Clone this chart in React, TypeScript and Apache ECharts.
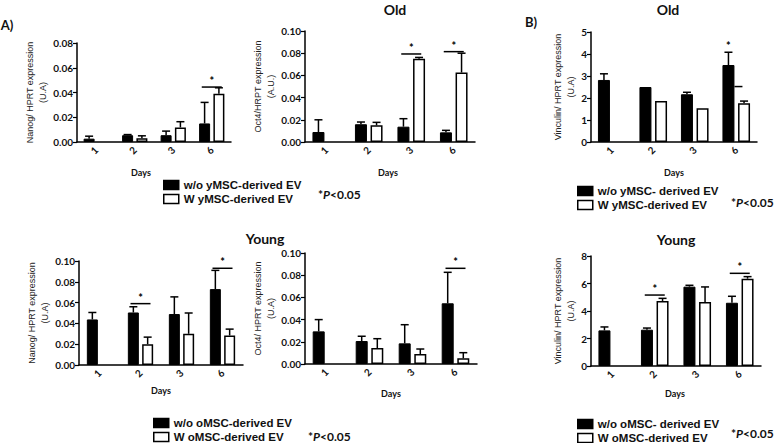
import React, { useEffect, useRef } from "react";
import * as echarts from "echarts";

const days = ["1", "2", "3", "6"];

// A) Old – Nanog
const nanogOldWo = [0.0027, 0.0055, 0.0055, 0.015];
const nanogOldWoErr = [0.002, 0.0005, 0.0033, 0.017];
const nanogOldW = [null, 0.003, 0.0118, 0.039];
const nanogOldWErr = [null, 0.002, 0.0046, 0.0048];
const nanogOldSig = [["6", 0.0444]];

// A) Old – Oct4
const oct4OldWo = [0.009, 0.016, 0.0138, 0.0087];
const oct4OldWoErr = [0.011, 0.002, 0.0072, 0.0018];
const oct4OldW = [null, 0.015, 0.075, 0.0626];
const oct4OldWErr = [null, 0.0027, 0.0012, 0.0174];
const oct4OldSig = [["3", 0.0793], ["6", 0.0814]];

// B) Old – Vinculin
const vincOldWo = [2.82, 2.5, 2.17, 3.5];
const vincOldWoErr = [0.28, 0, 0.09, 0.58];
const vincOldW = [null, 1.86, 1.53, 1.76];
const vincOldWErr = [null, 0, 0, 0.1];
const vincOldStar = [["6", 4.4]];
const vincOldDash = [["6", 2.52]];

// A) Young – Nanog
const nanogYoungWo = [0.0438, 0.0505, 0.049, 0.073];
const nanogYoungWoErr = [0.0067, 0.0055, 0.0165, 0.018];
const nanogYoungW = [null, 0.02, 0.03, 0.0284];
const nanogYoungWErr = [null, 0.0068, 0.02, 0.0061];
const nanogYoungSig = [["2", 0.059], ["6", 0.093]];

// A) Young – Oct4
const oct4YoungWo = [0.0294, 0.0207, 0.0186, 0.0547];
const oct4YoungWoErr = [0.0106, 0.0043, 0.0168, 0.0279];
const oct4YoungW = [null, 0.0144, 0.009, 0.0051];
const oct4YoungWErr = [null, 0.0084, 0.0045, 0.0051];
const oct4YoungSig = [["6", 0.0862]];

// B) Young – Vinculin
const vincYoungWo = [2.59, 2.64, 5.77, 4.6];
const vincYoungWoErr = [0.25, 0.12, 0.1, 0.47];
const vincYoungW = [null, 4.73, 4.65, 6.35];
const vincYoungWErr = [null, 0.19, 1.1, 0.15];
const vincYoungSig = [["2", 5.16], ["6", 6.74]];

const oldWoA = "w/o yMSC-derived EV";
const oldWA = "W yMSC-derived EV";
const oldWoB = "w/o yMSC- derived EV";
const youngWoA = "w/o oMSC-derived EV";
const youngWA = "W oMSC-derived EV";
const youngWoB = "w/o oMSC- derived EV";

const BOLD = "Lato";
const REG = "Liberation Sans";

type Panel = {
  wo: (number | null)[];
  woErr: (number | null)[];
  w: (number | null)[];
  wErr: (number | null)[];
  woName: string;
  wName: string;
  yName: string;
  max: number;
  interval: number;
  decimals: number;
  sig: (string | number)[][];
  star?: (string | number)[][];
  dash?: (string | number)[][];
  grid: { left: number; top: number; width: number; height: number };
  barW: number;
  nameGap: number;
};

const panels: Panel[] = [
  {
    wo: nanogOldWo, woErr: nanogOldWoErr, w: nanogOldW, wErr: nanogOldWErr,
    woName: oldWoA, wName: oldWA, yName: "Nanog/ HPRT expression\n(U.A)",
    max: 0.08, interval: 0.02, decimals: 2, sig: nanogOldSig,
    grid: { left: 77, top: 43, width: 154, height: 99 }, barW: 11, nameGap: 23,
  },
  {
    wo: oct4OldWo, woErr: oct4OldWoErr, w: oct4OldW, wErr: oct4OldWErr,
    woName: oldWoA, wName: oldWA, yName: "Oct4/HRPT expression\n(A.U.)",
    max: 0.1, interval: 0.02, decimals: 2, sig: oct4OldSig,
    grid: { left: 305, top: 31, width: 170, height: 111 }, barW: 12, nameGap: 28,
  },
  {
    wo: vincOldWo, woErr: vincOldWoErr, w: vincOldW, wErr: vincOldWErr,
    woName: oldWoB, wName: oldWA, yName: "Vinculin/ HPRT expression\n(U.A)",
    max: 5, interval: 1, decimals: 0, sig: [], star: vincOldStar, dash: vincOldDash,
    grid: { left: 591, top: 32, width: 166, height: 110 }, barW: 12, nameGap: 14,
  },
  {
    wo: nanogYoungWo, woErr: nanogYoungWoErr, w: nanogYoungW, wErr: nanogYoungWErr,
    woName: youngWoA, wName: youngWA, yName: "Nanog/ HPRT expression\n(U.A)",
    max: 0.1, interval: 0.02, decimals: 2, sig: nanogYoungSig,
    grid: { left: 79, top: 261, width: 164, height: 104 }, barW: 11, nameGap: 22,
  },
  {
    wo: oct4YoungWo, woErr: oct4YoungWoErr, w: oct4YoungW, wErr: oct4YoungWErr,
    woName: youngWoA, wName: youngWA, yName: "Oct4/ HPRT expression\n(U.A)",
    max: 0.1, interval: 0.02, decimals: 2, sig: oct4YoungSig,
    grid: { left: 305, top: 253, width: 172, height: 111 }, barW: 12, nameGap: 28,
  },
  {
    wo: vincYoungWo, woErr: vincYoungWoErr, w: vincYoungW, wErr: vincYoungWErr,
    woName: youngWoB, wName: youngWA, yName: "Vinculin/ HPRT expression\n(U.A)",
    max: 8, interval: 2, decimals: 0, sig: vincYoungSig,
    grid: { left: 591, top: 256, width: 170, height: 110 }, barW: 12, nameGap: 14,
  },
];

const GAP_RATIO = 0.3;

function buildOption() {
  const grid: any[] = [];
  const xAxis: any[] = [];
  const yAxis: any[] = [];
  const series: any[] = [];

  panels.forEach((p, gi) => {
    grid.push({ ...p.grid, containLabel: false });
    xAxis.push({
      type: "category",
      gridIndex: gi,
      data: days,
      axisLine: { lineStyle: { color: "#000", width: 1.5 } },
      axisTick: { alignWithLabel: true, length: 4, lineStyle: { color: "#000", width: 1.2 } },
      axisLabel: {
        interval: 0,
        rotate: 45,
        margin: 6,
        color: "#111",
        fontFamily: BOLD,
        fontWeight: "bold",
        fontSize: 10,
      },
      splitLine: { show: false },
    });
    yAxis.push({
      type: "value",
      gridIndex: gi,
      min: 0,
      max: p.max,
      interval: p.interval,
      name: p.yName,
      nameLocation: "middle",
      nameRotate: 90,
      nameGap: p.nameGap,
      nameTextStyle: { fontFamily: REG, fontSize: 9, lineHeight: 13, color: "#222" },
      axisLine: { show: true, lineStyle: { color: "#000", width: 1.5 } },
      axisTick: { show: true, length: 4, lineStyle: { color: "#000", width: 1.2 } },
      axisLabel: {
        margin: 4,
        color: "#111",
        fontFamily: BOLD,
        fontWeight: "bold",
        fontSize: 10,
        formatter: (v: number) => v.toFixed(p.decimals),
      },
      splitLine: { show: false },
    });

    const off = (p.barW * (1 + GAP_RATIO)) / 2;

    series.push({
      type: "bar",
      name: p.woName,
      xAxisIndex: gi,
      yAxisIndex: gi,
      data: p.wo.map((v) => (v == null ? "-" : v)),
      barWidth: p.barW,
      barGap: `${GAP_RATIO * 100}%`,
      itemStyle: { color: "#000", borderColor: "#000", borderWidth: 1 },
    });
    series.push({
      type: "bar",
      name: p.wName,
      xAxisIndex: gi,
      yAxisIndex: gi,
      data: p.w.map((v) => (v == null ? "-" : v)),
      barWidth: p.barW,
      barGap: `${GAP_RATIO * 100}%`,
      itemStyle: { color: "#fff", borderColor: "#000", borderWidth: 1.5 },
    });

    const errSeries = (vals: (number | null)[], errs: (number | null)[], dx: number) => {
      const data: number[][] = [];
      vals.forEach((v, i) => {
        const e = errs[i];
        if (v != null && e != null && e > 0) data.push([i, v, v + e]);
      });
      return {
        type: "custom",
        xAxisIndex: gi,
        yAxisIndex: gi,
        silent: true,
        z: 5,
        data,
        encode: { x: 0, y: [1, 2] },
        renderItem: (params: any, api: any) => {
          const c = api.coord([api.value(0), api.value(1)]);
          const t = api.coord([api.value(0), api.value(2)]);
          const cx = c[0] + dx;
          const st = { stroke: "#000", lineWidth: 1.5 };
          return {
            type: "group",
            children: [
              { type: "line", shape: { x1: cx, y1: c[1], x2: cx, y2: t[1] }, style: st },
              { type: "line", shape: { x1: cx - 4, y1: t[1], x2: cx + 4, y2: t[1] }, style: st },
            ],
          };
        },
      };
    };
    series.push(errSeries(p.wo, p.woErr, -off));
    series.push(errSeries(p.w, p.wErr, off));

    if (p.sig.length) {
      series.push({
        type: "custom",
        xAxisIndex: gi,
        yAxisIndex: gi,
        silent: true,
        z: 6,
        data: p.sig.map((s) => [days.indexOf(String(s[0])), s[1]]),
        encode: { x: 0, y: 1 },
        renderItem: (params: any, api: any) => {
          const c = api.coord([api.value(0), api.value(1)]);
          return {
            type: "group",
            children: [
              {
                type: "line",
                shape: { x1: c[0] - 10, y1: c[1], x2: c[0] + 10, y2: c[1] },
                style: { stroke: "#000", lineWidth: 1.5 },
              },
              {
                type: "text",
                x: c[0],
                y: c[1] - 1,
                style: {
                  text: "*",
                  fill: "#000",
                  fontFamily: BOLD,
                  fontWeight: "bold",
                  fontSize: 11,
                  align: "center",
                  verticalAlign: "bottom",
                },
              },
            ],
          };
        },
      });
    }
    if (p.star) {
      series.push({
        type: "custom",
        xAxisIndex: gi,
        yAxisIndex: gi,
        silent: true,
        z: 6,
        data: p.star.map((s) => [days.indexOf(String(s[0])), s[1]]),
        encode: { x: 0, y: 1 },
        renderItem: (params: any, api: any) => {
          const c = api.coord([api.value(0), api.value(1)]);
          return {
            type: "text",
            x: c[0] - off,
            y: c[1],
            style: {
              text: "*",
              fill: "#000",
              fontFamily: BOLD,
              fontWeight: "bold",
              fontSize: 11,
              align: "center",
              verticalAlign: "middle",
            },
          };
        },
      });
    }
    if (p.dash) {
      series.push({
        type: "custom",
        xAxisIndex: gi,
        yAxisIndex: gi,
        silent: true,
        z: 6,
        data: p.dash.map((s) => [days.indexOf(String(s[0])), s[1]]),
        encode: { x: 0, y: 1 },
        renderItem: (params: any, api: any) => {
          const c = api.coord([api.value(0), api.value(1)]);
          return {
            type: "line",
            shape: { x1: c[0] - off + p.barW / 2, y1: c[1], x2: c[0] - off + p.barW / 2 + 8, y2: c[1] },
            style: { stroke: "#000", lineWidth: 1.5 },
          };
        },
      });
    }
  });

  const legendBase = {
    orient: "vertical",
    selectedMode: false,
    icon: "rect",
    itemWidth: 15,
    itemHeight: 9,
    itemGap: 0,
    padding: 0,
    height: 40,
    itemStyle: { borderColor: "#000", borderWidth: 1.5 },
    textStyle: {
      fontFamily: "Liberation Sans",
      fontWeight: "bold",
      fontSize: 11.5,
      lineHeight: 14,
      color: "#111",
      padding: [0, 0, 0, 0],
    },
  };

  const legend = [
    { ...legendBase, left: 163, top: 178, data: [oldWoA, oldWA] },
    { ...legendBase, left: 577, top: 184, data: [oldWoB, oldWA] },
    { ...legendBase, left: 153, top: 416, data: [youngWoA, youngWA] },
    { ...legendBase, left: 577, top: 417, data: [youngWoB, youngWA] },
  ];

  const txt = (text: string, x: number, y: number, size: number, align = "center") => ({
    type: "text",
    x,
    y,
    silent: true,
    style: {
      text,
      fill: "#111",
      fontFamily: BOLD,
      fontWeight: "bold",
      fontSize: size,
      align,
      verticalAlign: "middle",
    },
  });

  const pText = (x: number, y: number) => ({
    type: "text",
    x,
    y,
    silent: true,
    style: {
      text: "*{i|P}<0.05",
      fill: "#111",
      fontFamily: BOLD,
      fontWeight: "bold",
      fontSize: 12,
      align: "left",
      verticalAlign: "middle",
      rich: {
        i: { fontFamily: BOLD, fontWeight: "bold", fontStyle: "italic", fontSize: 12, fill: "#111" },
      },
    },
  });

  const graphic = [
    txt("Old", 395, 9, 14),
    txt("Old", 668, 9, 14),
    txt("Young", 265, 238, 14),
    txt("Young", 676, 239, 14),
    txt("A)", 7, 25, 13),
    txt("B)", 531, 22, 13),
    txt("Days", 141, 172, 9),
    txt("Days", 388, 172, 9),
    txt("Days", 674, 172, 9),
    txt("Days", 161, 390, 9),
    txt("Days", 391, 393, 9),
    txt("Days", 675, 393, 9),
    pText(318, 194),
    pText(731, 202),
    pText(308, 436),
    pText(731, 433),
  ];

  return {
    animation: false,
    backgroundColor: "#fff",
    grid,
    xAxis,
    yAxis,
    series,
    legend,
    graphic,
  };
}

export default function App() {
  const ref = useRef<HTMLDivElement>(null);
  useEffect(() => {
    document.body.style.margin = "0";
    if (!ref.current) return;
    const chart = echarts.init(ref.current, undefined, { renderer: "svg" });
    chart.setOption(buildOption() as any);
    return () => chart.dispose();
  }, []);
  return <div ref={ref} style={{ width: 778, height: 443, background: "#fff" }} />;
}
